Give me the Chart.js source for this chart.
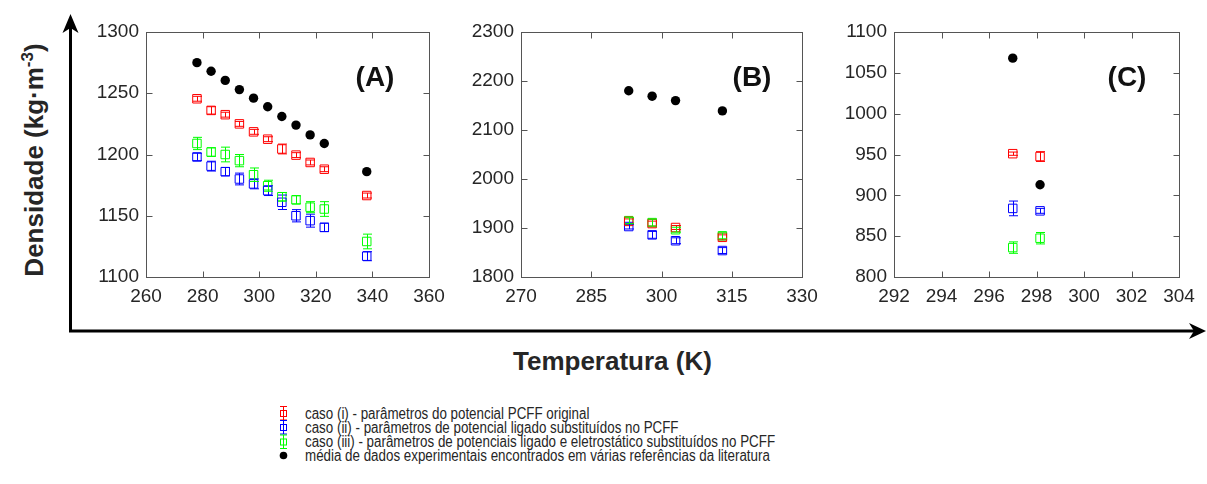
<!DOCTYPE html>
<html>
<head>
<meta charset="utf-8">
<script src="https://cdn.jsdelivr.net/npm/chart.js@4.4.1/dist/chart.umd.min.js"></script>
<style>
    body { margin: 0; background: #fff; width: 1207px; height: 484px; position: relative; overflow: hidden;
           font-family: "Liberation Sans", Arial, sans-serif; color: #262626; }
    canvas { position: absolute; }
    .panel { position: absolute; font-weight: bold; font-size: 28px; color: #111; transform: translate(-50%, -50%); white-space: nowrap; }
    #ytitle { position: absolute; left: 34px; top: 160px; font-weight: bold; font-size: 26px; color: #262626;
              white-space: nowrap; transform: translate(-50%, -50%) rotate(-90deg); }
    #ytitle sup { font-size: 17px; }
    #xtitle { position: absolute; left: 513px; top: 348px; font-weight: bold; font-size: 26px; line-height: 26px; color: #262626; white-space: nowrap; }
    #legend { position: absolute; left: 305px; top: 407px; font-size: 16px; line-height: 13.9px; color: #262626;
              transform: scaleX(0.835); transform-origin: left top; white-space: nowrap; }
</style>
</head>
<body>

<svg width="1207" height="484" style="position:absolute;left:0;top:0">
    <!-- eixos grandes com setas -->
    <line x1="70.5" y1="332" x2="70.5" y2="26" stroke="#000" stroke-width="3"/>
    <path d="M70.5,14 L62.5,33 L70.5,28 L78.5,33 Z" fill="#000"/>
    <line x1="69" y1="331" x2="1196" y2="331" stroke="#000" stroke-width="3"/>
    <path d="M1206,331 L1189,323 L1194,331 L1189,339 Z" fill="#000"/>
    <!-- simbolos da legenda -->
    <g stroke="#ff0000" fill="none" stroke-width="1">
        <line x1="283.5" y1="406.5" x2="283.5" y2="420"/><line x1="280" y1="406.5" x2="287" y2="406.5"/><line x1="280" y1="420" x2="287" y2="420"/>
        <rect x="280.5" y="410.5" width="6" height="6"/>
    </g>
    <g stroke="#0000ff" fill="none" stroke-width="1">
        <line x1="283.5" y1="420.5" x2="283.5" y2="434"/><line x1="280" y1="420.5" x2="287" y2="420.5"/><line x1="280" y1="434" x2="287" y2="434"/>
        <rect x="280.5" y="424.5" width="6" height="6"/>
    </g>
    <g stroke="#00ff00" fill="none" stroke-width="1">
        <line x1="283.5" y1="435" x2="283.5" y2="448.5"/><line x1="280" y1="435" x2="287" y2="435"/><line x1="280" y1="448.5" x2="287" y2="448.5"/>
        <rect x="280.5" y="439" width="6" height="6"/>
    </g>
    <circle cx="283.5" cy="455.5" r="3.8" fill="#000"/>
</svg>

<canvas id="chartA" width="394" height="307" style="left:60px;top:10px"></canvas>
<canvas id="chartB" width="392" height="307" style="left:435px;top:10px"></canvas>
<canvas id="chartC" width="396" height="307" style="left:808px;top:10px"></canvas>

<div class="panel" style="left:375px;top:77px">(A)</div>
<div class="panel" style="left:752px;top:77px">(B)</div>
<div class="panel" style="left:1127px;top:77px">(C)</div>

<div id="ytitle">Densidade (kg·m<sup>-3</sup>)</div>
<div id="xtitle">Temperatura (K)</div>

<div id="legend">
    <div>caso (i) - parâmetros do potencial PCFF original</div>
    <div>caso (ii) - parâmetros de potencial ligado substituídos no PCFF</div>
    <div>caso (iii) - parâmetros de potenciais ligado e eletrostático substituídos no PCFF</div>
    <div>média de dados experimentais encontrados em várias referências da literatura</div>
</div>

<script>
// Painel (A)
const tempA = [278, 283, 288, 293, 298, 303, 308, 313, 318, 323, 338];
const expA = [1275, 1268, 1260.5, 1253, 1246, 1239, 1231, 1224, 1216, 1209, 1186];
const caso1A = [1245.5, 1236, 1232.5, 1225, 1218.5, 1212.5, 1204.5, 1199.5, 1193.5, 1188, 1166.5];
const erro1A = [2, 3, 2, 2, 2, 2, 4, 2, 2, 2, 2];
const caso2A = [1198, 1190.5, 1186, 1180, 1176, 1170.5, 1161, 1150, 1146, 1140.5, 1117];
const erro2A = [3, 4, 3.4, 4.8, 4, 4, 5.9, 5, 5.3, 3.4, 3.7];
const caso3A = [1209, 1202, 1200, 1195, 1183.5, 1174.5, 1165.5, 1163, 1157, 1155.5, 1129];
const erro3A = [5, 3.5, 6, 5, 5.5, 4.5, 3.5, 3.3, 4.5, 6, 6];

// Painel (B)
const tempB = [293, 298, 303, 313];
const expB = [2180, 2169, 2160, 2139];
const caso1B = [1913.5, 1909, 1901, 1881];
const erro1B = [5, 5, 4, 5];
const caso2B = [1903, 1886, 1874, 1854];
const erro2B = [5, 7, 6, 6];
const caso3B = [1915, 1911, 1896.5, 1884];
const erro3B = [6, 7, 5, 6];

// Painel (C)
const tempC = [297, 298.15];
const expC = [1068, 913];
const caso1C = [951, 947.5];
const erro1C = [2, 6];
const caso2C = [884, 881];
const erro2C = [9, 3];
const caso3C = [836, 847.5];
const erro3C = [7, 7];

const RED = '#ff0000', BLUE = '#0000ff', GREEN = '#00ff00';
const AXIS_COLOR = '#555555';

function pts(xs, ys) {
    return xs.map((x, i) => ({ x: x, y: ys[i] }));
}

function caseSet(xs, ys, errs, color) {
    return {
        data: pts(xs, ys),
        errors: errs,
        borderColor: color,
        backgroundColor: 'rgba(0,0,0,0)',
        borderWidth: 1,
        pointStyle: 'rect',
        pointRadius: 6,
        showLine: false
    };
}

function expSet(xs, ys) {
    return {
        data: pts(xs, ys),
        borderColor: '#000',
        backgroundColor: '#000',
        pointStyle: 'circle',
        pointRadius: 4.7,
        borderWidth: 0,
        showLine: false
    };
}

// barras de erro (desenhadas com as escalas do grafico)
const errorBars = {
    id: 'errorBars',
    afterDatasetsDraw(chart) {
        const ctx = chart.ctx;
        const xs = chart.scales.x, ys = chart.scales.y;
        ctx.save();
        ctx.lineWidth = 1;
        chart.data.datasets.forEach((ds) => {
            if (!ds.errors) return;
            ctx.strokeStyle = ds.borderColor;
            ds.data.forEach((p, i) => {
                const px = Math.round(xs.getPixelForValue(p.x)) + 0.5;
                const y1 = ys.getPixelForValue(p.y - ds.errors[i]);
                const y2 = ys.getPixelForValue(p.y + ds.errors[i]);
                ctx.beginPath();
                ctx.moveTo(px, y1); ctx.lineTo(px, y2);
                ctx.moveTo(px - 4.5, y1); ctx.lineTo(px + 4.5, y1);
                ctx.moveTo(px - 4.5, y2); ctx.lineTo(px + 4.5, y2);
                ctx.stroke();
            });
        });
        ctx.restore();
    }
};

// caixa com marcas para dentro, estilo matlab
const boxTicks = {
    id: 'boxTicks',
    afterDraw(chart) {
        const ctx = chart.ctx;
        const a = chart.chartArea;
        const L = Math.round(a.left) + 0.5, R = Math.round(a.right) + 0.5;
        const T = Math.round(a.top) + 0.5, B = Math.round(a.bottom) + 0.5;
        ctx.save();
        ctx.strokeStyle = AXIS_COLOR;
        ctx.lineWidth = 1;
        ctx.strokeRect(L, T, R - L, B - T);
        ctx.beginPath();
        chart.scales.x.ticks.forEach((t) => {
            const px = Math.round(chart.scales.x.getPixelForValue(t.value)) + 0.5;
            ctx.moveTo(px, B); ctx.lineTo(px, B - 6);
            ctx.moveTo(px, T); ctx.lineTo(px, T + 6);
        });
        chart.scales.y.ticks.forEach((t) => {
            const py = Math.round(chart.scales.y.getPixelForValue(t.value)) + 0.5;
            ctx.moveTo(L, py); ctx.lineTo(L + 6, py);
            ctx.moveTo(R, py); ctx.lineTo(R - 6, py);
        });
        ctx.stroke();
        ctx.restore();
    }
};

function makeChart(id, datasets, xr, yr) {
    const tickFont = { family: '"Liberation Sans", Arial, sans-serif', size: 19 };
    const plain = (v) => String(v);
    return new Chart(document.getElementById(id), {
        type: 'scatter',
        data: { datasets: datasets },
        options: {
            responsive: false,
            animation: false,
            layout: { padding: { top: 22, right: 25, bottom: 5, left: 0 } },
            plugins: { legend: { display: false }, tooltip: { enabled: false } },
            scales: {
                x: {
                    min: xr[0], max: xr[1],
                    grid: { display: false, drawTicks: false },
                    border: { display: false },
                    ticks: { stepSize: xr[2], autoSkip: false, maxRotation: 0, padding: 8, color: '#262626', font: tickFont, callback: plain },
                    afterFit: (s) => { s.height = 35; }
                },
                y: {
                    min: yr[0], max: yr[1],
                    grid: { display: false, drawTicks: false },
                    border: { display: false },
                    ticks: { stepSize: yr[2], padding: 7, color: '#262626', font: tickFont, callback: plain },
                    afterFit: (s) => { s.width = 86; }
                }
            }
        },
        plugins: [errorBars, boxTicks]
    });
}

makeChart('chartA', [
    caseSet(tempA, caso1A, erro1A, RED),
    caseSet(tempA, caso2A, erro2A, BLUE),
    caseSet(tempA, caso3A, erro3A, GREEN),
    expSet(tempA, expA)
], [260, 360, 20], [1100, 1300, 50]);

makeChart('chartB', [
    caseSet(tempB, caso1B, erro1B, RED),
    caseSet(tempB, caso2B, erro2B, BLUE),
    caseSet(tempB, caso3B, erro3B, GREEN),
    expSet(tempB, expB)
], [270, 330, 15], [1800, 2300, 100]);

makeChart('chartC', [
    caseSet(tempC, caso1C, erro1C, RED),
    caseSet(tempC, caso2C, erro2C, BLUE),
    caseSet(tempC, caso3C, erro3C, GREEN),
    expSet(tempC, expC)
], [292, 304, 2], [800, 1100, 50]);
</script>
</body>
</html>
